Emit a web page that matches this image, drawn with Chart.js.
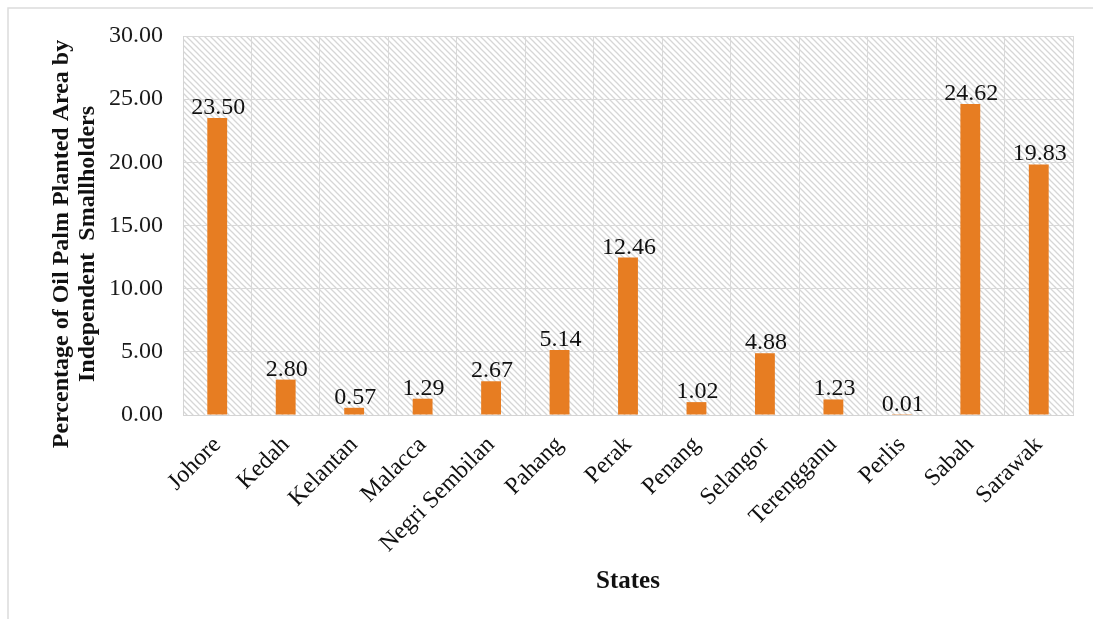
<!DOCTYPE html>
<html>
<head>
<meta charset="utf-8">
<title>Oil palm planted area by independent smallholders</title>
<script src="https://cdn.jsdelivr.net/npm/chart.js@4/dist/chart.umd.min.js"></script>
<style>
  html, body { margin: 0; padding: 0; background: #ffffff; }
  #wrap { width: 1093px; height: 619px; position: relative; }
</style>
</head>
<body>
<div id="wrap"><canvas id="chart" width="1093" height="619"></canvas></div>
<script>
// States and their share (%) of oil palm planted area held by independent smallholders
const states = ['Johore', 'Kedah', 'Kelantan', 'Malacca', 'Negri Sembilan', 'Pahang', 'Perak',
                'Penang', 'Selangor', 'Terengganu', 'Perlis', 'Sabah', 'Sarawak'];
const shares = [23.50, 2.80, 0.57, 1.29, 2.67, 5.14, 12.46, 1.02, 4.88, 1.23, 0.01, 24.62, 19.83];
const yTicks = [0, 5, 10, 15, 20, 25, 30];
const yTitleLines = ['Percentage of Oil Palm Planted Area by', 'Independent  Smallholders'];
const xTitle = 'States';

const SERIF = '"Liberation Serif", "Times New Roman", "DejaVu Serif", serif';

// Diagonal hatch tile for the plot background
function makeHatch() {
  const s = 6;
  const c = document.createElement('canvas');
  c.width = s; c.height = s;
  const g = c.getContext('2d');
  g.fillStyle = '#ffffff';
  g.fillRect(0, 0, s, s);
  g.strokeStyle = '#d6d6d6';
  g.lineWidth = 1.3;
  g.beginPath();
  g.moveTo(-1, -1); g.lineTo(s + 1, s + 1);
  g.moveTo(-1, s - 1); g.lineTo(1, s + 1);
  g.moveTo(s - 1, -1); g.lineTo(s + 1, 1);
  g.stroke();
  return g.createPattern(c, 'repeat');
}

const backdrop = {
  id: 'backdrop',
  beforeDraw(chart) {
    const { ctx, chartArea: a } = chart;
    ctx.save();
    // figure frame (top and left edges)
    ctx.strokeStyle = '#dcdcdc';
    ctx.lineWidth = 1.5;
    ctx.beginPath();
    ctx.moveTo(8, chart.height); ctx.lineTo(8, 8); ctx.lineTo(chart.width, 8);
    ctx.stroke();
    // hatched plot area
    ctx.fillStyle = makeHatch();
    ctx.fillRect(a.left, a.top, a.right - a.left, a.bottom - a.top);
    ctx.restore();
  }
};

// Vertical two-line axis title on the left
const yTitle = {
  id: 'yTitle',
  afterDraw(chart) {
    const { ctx } = chart;
    ctx.save();
    ctx.font = 'bold 24px ' + SERIF;
    ctx.fillStyle = '#111111';
    ctx.textAlign = 'center';
    ctx.textBaseline = 'middle';
    const xs = [62, 88];
    yTitleLines.forEach((line, i) => {
      ctx.save();
      ctx.translate(xs[i], 244);
      ctx.rotate(-Math.PI / 2);
      ctx.fillText(line, 0, 0);
      ctx.restore();
    });
    ctx.restore();
  }
};

// Value printed above each bar
const valueLabels = {
  id: 'valueLabels',
  afterDatasetsDraw(chart) {
    const { ctx } = chart;
    const meta = chart.getDatasetMeta(0);
    ctx.save();
    ctx.font = '24px ' + SERIF;
    ctx.fillStyle = '#111111';
    ctx.textAlign = 'center';
    ctx.textBaseline = 'alphabetic';
    meta.data.forEach((bar, i) => {
      ctx.fillText(shares[i].toFixed(2), bar.x + 1, bar.y - 4);
    });
    ctx.restore();
  }
};

new Chart(document.getElementById('chart'), {
  type: 'bar',
  data: {
    labels: states,
    datasets: [{
      data: shares,
      backgroundColor: '#E77D22',
      borderWidth: 0,
      barPercentage: 0.29,
      categoryPercentage: 1.0
    }]
  },
  options: {
    responsive: false,
    animation: false,
    events: [],
    layout: { padding: { left: 8, right: 20, top: 36, bottom: 0 } },
    plugins: {
      legend: { display: false },
      tooltip: { enabled: false }
    },
    scales: {
      x: {
        offset: true,
        grid: { offset: true, color: '#d9d9d9', lineWidth: 1, drawTicks: false },
        border: { display: true, color: '#d4d4d4' },
        ticks: {
          autoSkip: false,
          minRotation: 45,
          maxRotation: 45,
          padding: 16,
          color: '#111111',
          font: { family: SERIF, size: 24 }
        },
        title: {
          display: true,
          text: xTitle,
          color: '#111111',
          font: { family: SERIF, size: 25, weight: 'bold', lineHeight: 1.15 },
          padding: { top: 0, bottom: 23 }
        },
        afterFit(scale) { scale.height = 204; }
      },
      y: {
        min: 0,
        max: 30,
        afterBuildTicks(scale) { scale.ticks = yTicks.map(v => ({ value: v })); },
        grid: { color: '#d9d9d9', lineWidth: 1, drawTicks: false },
        border: { display: true, color: '#d4d4d4' },
        ticks: {
          padding: 20,
          color: '#1a1a1a',
          font: { family: SERIF, size: 24 },
          callback: v => Number(v).toFixed(2)
        },
        afterFit(scale) { scale.width = 175; }
      }
    }
  },
  plugins: [backdrop, yTitle, valueLabels]
});
</script>
</body>
</html>
